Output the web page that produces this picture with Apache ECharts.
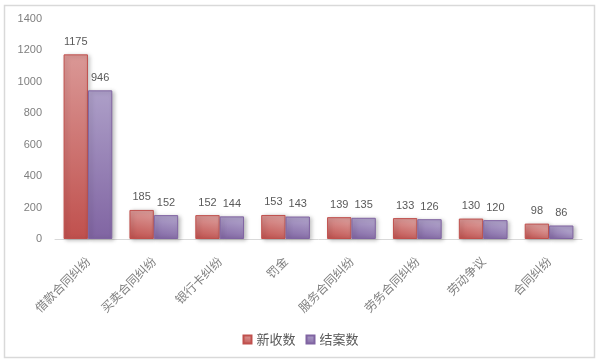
<!DOCTYPE html>
<html><head><meta charset="utf-8">
<script src="https://cdn.jsdelivr.net/npm/echarts@6/dist/echarts.min.js"></script>
<style>html,body{margin:0;padding:0;background:#fff}#c{width:601px;height:364px}</style>
</head><body><div id="c"></div>
<script>
const categories = ['借款合同纠纷','买卖合同纠纷','银行卡纠纷','罚金','服务合同纠纷','劳务合同纠纷','劳动争议','合同纠纷'];
const newCases = [1175,185,152,153,139,133,130,98];
const closedCases = [946,152,144,143,135,126,120,86];
const yTicks = [0,200,400,600,800,1000,1200,1400];
const seriesNames = ['新收数','结案数'];

const font = '"Noto Sans CJK SC", "Liberation Sans", sans-serif';
const numFont = '"Liberation Sans", sans-serif';
function grad(top, bottom){
  return new echarts.graphic.LinearGradient(0.2,0,0,1,[{offset:0,color:top},{offset:1,color:bottom}]);
}
const chart = echarts.init(document.getElementById('c'), null, {renderer:'canvas'});
chart.setOption({
  animation:false,
  graphic:[{type:'rect',shape:{x:4.5,y:5.5,width:590,height:352},style:{fill:'none',stroke:'#D9D9D9',lineWidth:1.5},z:-1}],
  grid:{left:55,right:19,top:19,bottom:125,containLabel:false},
  legend:{data:seriesNames,bottom:13,left:'center',itemWidth:8,itemHeight:8,itemGap:10,
    icon:'rect',textStyle:{fontFamily:font,fontSize:13,color:'#595959'}},
  xAxis:{type:'category',data:categories,
    axisLine:{lineStyle:{color:'#D9D9D9'}},axisTick:{show:false},
    axisLabel:{rotate:45,interval:0,fontFamily:font,fontSize:12,color:'#7F7F7F',margin:20}},
  yAxis:{type:'value',min:0,max:1400,interval:200,
    axisLine:{show:false},axisTick:{show:false},splitLine:{show:false},
    axisLabel:{fontFamily:numFont,fontSize:11,color:'#7F7F7F',margin:13,
      formatter:v=>yTicks.includes(v)?String(v):''}},
  series:[
    {name:seriesNames[0],type:'bar',data:newCases,barGap:'0%',barCategoryGap:'26%',
      itemStyle:{color:grad('#DA9896','#C0504D'),borderColor:'#C0504D',borderWidth:1,
        shadowColor:'rgba(0,0,0,0.25)',shadowBlur:4,shadowOffsetX:2,shadowOffsetY:1},
      label:{show:true,position:'top',distance:7,fontFamily:numFont,fontSize:11,color:'#595959'}},
    {name:seriesNames[1],type:'bar',data:closedCases,
      itemStyle:{color:grad('#AD9FC8','#8064A2'),borderColor:'#8064A2',borderWidth:1,
        shadowColor:'rgba(0,0,0,0.25)',shadowBlur:4,shadowOffsetX:2,shadowOffsetY:1},
      label:{show:true,position:'top',distance:7,fontFamily:numFont,fontSize:11,color:'#595959'}}
  ]
});
</script></body></html>
